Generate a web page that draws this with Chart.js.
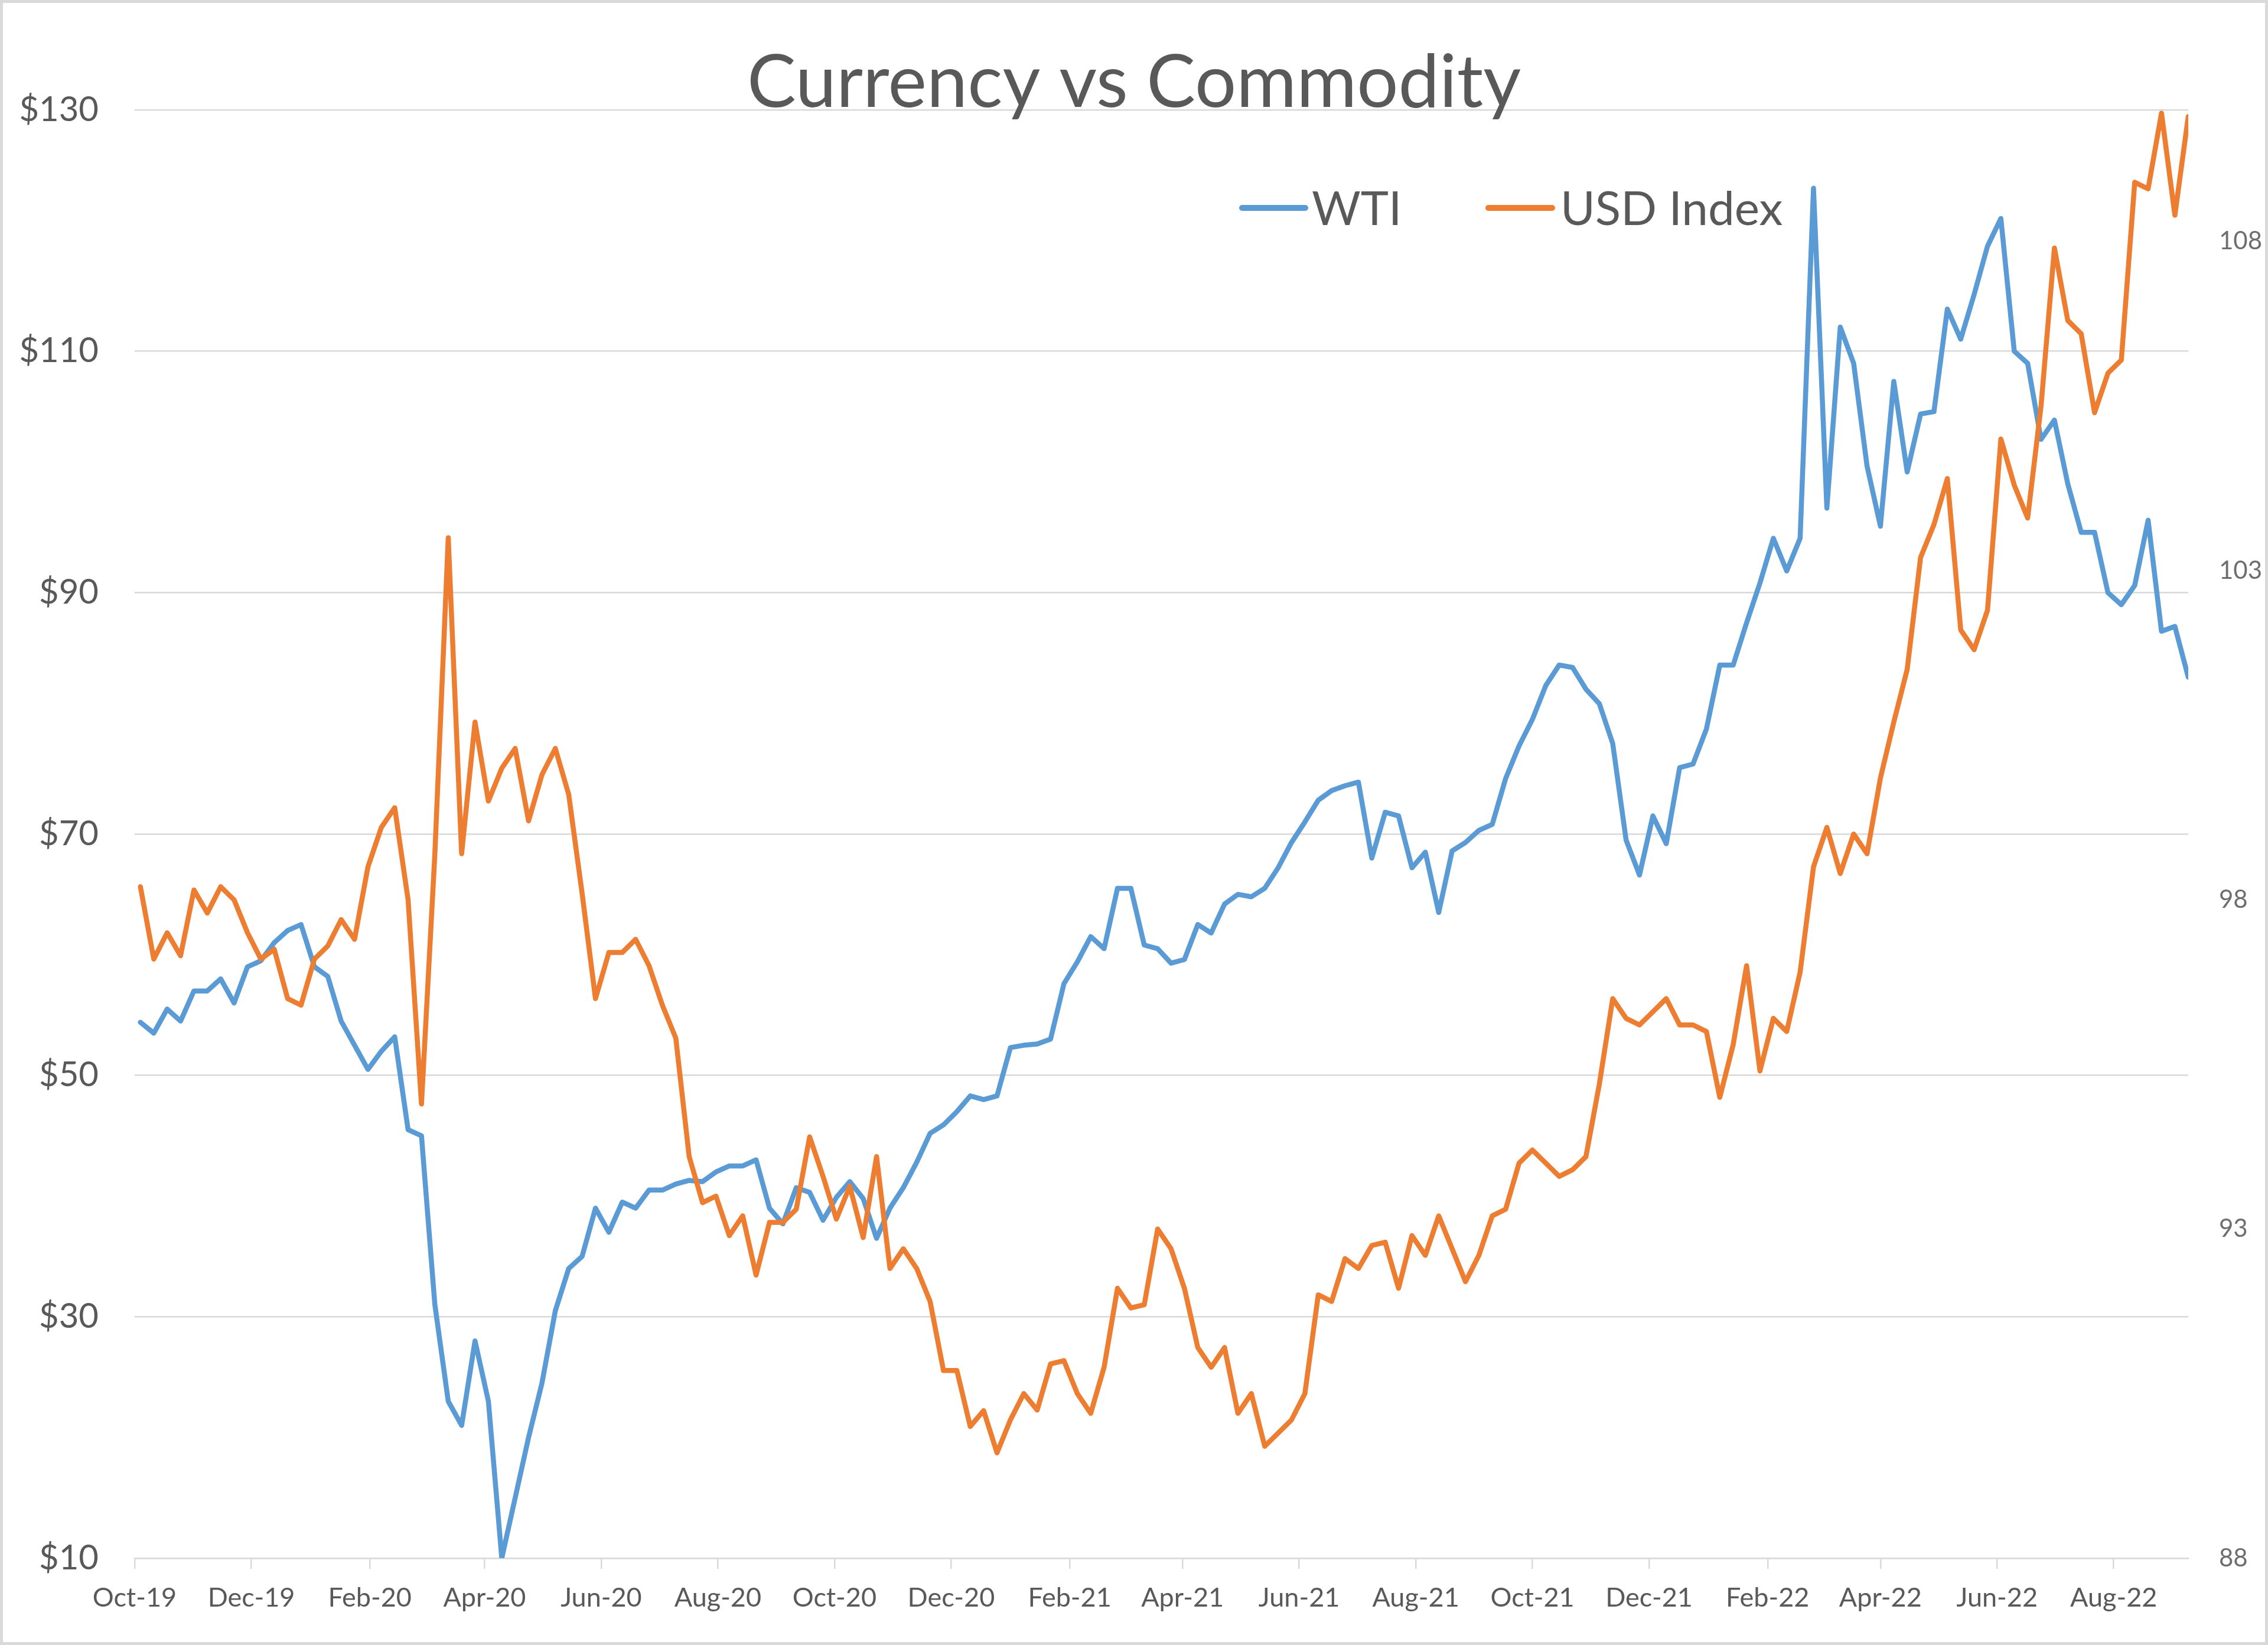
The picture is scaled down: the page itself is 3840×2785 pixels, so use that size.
<!DOCTYPE html>
<html>
<head>
<meta charset="utf-8">
<title>Currency vs Commodity</title>
<script src="https://cdn.jsdelivr.net/npm/chart.js@4.4.0/dist/chart.umd.min.js"></script>
<style>
    html, body { margin: 0; padding: 0; background: #ffffff; }
    #wrap { width: 3840px; height: 2785px; }
</style>
</head>
<body>
<div id="wrap"><canvas id="chart" width="3840" height="2785"></canvas></div>
<script>
// Weekly closes (Friday)
const weeks = [
    '2019-10-04','2019-10-11','2019-10-18','2019-10-25','2019-11-01','2019-11-08','2019-11-15','2019-11-22','2019-11-29','2019-12-06',
    '2019-12-13','2019-12-20','2019-12-27','2020-01-03','2020-01-10','2020-01-17','2020-01-24','2020-01-31','2020-02-07','2020-02-14',
    '2020-02-21','2020-02-28','2020-03-06','2020-03-13','2020-03-20','2020-03-27','2020-04-03','2020-04-10','2020-04-17','2020-04-24',
    '2020-05-01','2020-05-08','2020-05-15','2020-05-22','2020-05-29','2020-06-05','2020-06-12','2020-06-19','2020-06-26','2020-07-03',
    '2020-07-10','2020-07-17','2020-07-24','2020-07-31','2020-08-07','2020-08-14','2020-08-21','2020-08-28','2020-09-04','2020-09-11',
    '2020-09-18','2020-09-25','2020-10-02','2020-10-09','2020-10-16','2020-10-23','2020-10-30','2020-11-06','2020-11-13','2020-11-20',
    '2020-11-27','2020-12-04','2020-12-11','2020-12-18','2020-12-25','2021-01-01','2021-01-08','2021-01-15','2021-01-22','2021-01-29',
    '2021-02-05','2021-02-12','2021-02-19','2021-02-26','2021-03-05','2021-03-12','2021-03-19','2021-03-26','2021-04-02','2021-04-09',
    '2021-04-16','2021-04-23','2021-04-30','2021-05-07','2021-05-14','2021-05-21','2021-05-28','2021-06-04','2021-06-11','2021-06-18',
    '2021-06-25','2021-07-02','2021-07-09','2021-07-16','2021-07-23','2021-07-30','2021-08-06','2021-08-13','2021-08-20','2021-08-27',
    '2021-09-03','2021-09-10','2021-09-17','2021-09-24','2021-10-01','2021-10-08','2021-10-15','2021-10-22','2021-10-29','2021-11-05',
    '2021-11-12','2021-11-19','2021-11-26','2021-12-03','2021-12-10','2021-12-17','2021-12-24','2021-12-31','2022-01-07','2022-01-14',
    '2022-01-21','2022-01-28','2022-02-04','2022-02-11','2022-02-18','2022-02-25','2022-03-04','2022-03-11','2022-03-18','2022-03-25',
    '2022-04-01','2022-04-08','2022-04-15','2022-04-22','2022-04-29','2022-05-06','2022-05-13','2022-05-20','2022-05-27','2022-06-03',
    '2022-06-10','2022-06-17','2022-06-24','2022-07-01','2022-07-08','2022-07-15','2022-07-22','2022-07-29','2022-08-05','2022-08-12',
    '2022-08-19','2022-08-26','2022-09-02','2022-09-09'
];

// WTI crude, $ per barrel (left axis; April 2020 is cut off at the $10 floor)
const wti = [
    54.4, 53.5, 55.5, 54.5, 57.0, 57.0, 58.0, 56.0, 59.0, 59.5,
    61.0, 62.0, 62.5, 59.0, 58.2, 54.5, 52.5, 50.5, 52.0, 53.2,
    45.5, 45.0, 31.0, 23.0, 21.0, 28.0, 23.0, 10.0, 15.0, 20.0,
    24.5, 30.5, 34.0, 35.0, 39.0, 37.0, 39.5, 39.0, 40.5, 40.5,
    41.0, 41.3, 41.2, 42.0, 42.5, 42.5, 43.0, 39.0, 37.7, 40.7,
    40.3, 38.0, 39.9, 41.2, 39.8, 36.5, 39.0, 40.7, 42.8, 45.2,
    45.9, 47.0, 48.3, 48.0, 48.3, 52.3, 52.5, 52.6, 53.0, 57.6,
    59.4, 61.5, 60.5, 65.5, 65.5, 60.8, 60.5, 59.3, 59.6, 62.5,
    61.8, 64.2, 65.0, 64.8, 65.5, 67.2, 69.3, 71.0, 72.8, 73.6,
    74.0, 74.3, 68.0, 71.8, 71.5, 67.2, 68.5, 63.5, 68.6, 69.3,
    70.3, 70.8, 74.6, 77.3, 79.5, 82.3, 84.0, 83.8, 82.0, 80.8,
    77.5, 69.5, 66.6, 71.5, 69.2, 75.5, 75.8, 78.7, 84.0, 84.0,
    87.5, 90.8, 94.5, 91.8, 94.5, 123.5, 97.0, 112.0, 109.0, 100.5,
    95.5, 107.5, 100.0, 104.8, 105.0, 113.5, 111.0, 114.7, 118.7, 121.0,
    110.0, 109.0, 102.7, 104.3, 99.0, 95.0, 95.0, 90.0, 89.0, 90.6,
    96.0, 86.8, 87.2, 83.0
];

// US Dollar Index (right axis)
const usdIndex = [
    98.2, 97.1, 97.5, 97.15, 98.15, 97.8, 98.2, 98.0, 97.5, 97.1,
    97.25, 96.5, 96.4, 97.1, 97.3, 97.7, 97.4, 98.5, 99.1, 99.4,
    98.0, 94.9, 98.7, 103.5, 98.7, 100.7, 99.5, 100.0, 100.3, 99.2,
    99.9, 100.3, 99.6, 98.1, 96.5, 97.2, 97.2, 97.4, 97.0, 96.4,
    95.9, 94.1, 93.4, 93.5, 92.9, 93.2, 92.3, 93.1, 93.1, 93.3,
    94.4, 93.8, 93.15, 93.65, 92.87, 94.1, 92.4, 92.7, 92.4, 91.9,
    90.85, 90.85, 90.0, 90.24, 89.6, 90.1, 90.5, 90.25, 90.95, 91.0,
    90.5, 90.2, 90.9, 92.1, 91.8, 91.85, 93.0, 92.7, 92.1, 91.2,
    90.9, 91.2, 90.2, 90.5, 89.7, 89.9, 90.1, 90.5, 92.0, 91.9,
    92.55, 92.4, 92.75, 92.8, 92.1, 92.9, 92.6, 93.2, 92.7, 92.2,
    92.6, 93.2, 93.3, 94.0, 94.2, 94.0, 93.8, 93.9, 94.1, 95.2,
    96.5, 96.2, 96.1, 96.3, 96.5, 96.1, 96.1, 96.0, 95.0, 95.8,
    97.0, 95.4, 96.2, 96.0, 96.9, 98.5, 99.1, 98.4, 99.0, 98.7,
    99.85, 100.7, 101.5, 103.2, 103.7, 104.4, 102.1, 101.8, 102.4, 105.0,
    104.3, 103.8, 105.5, 107.9, 106.8, 106.6, 105.4, 106.0, 106.2, 108.9,
    108.8, 109.95, 108.4, 109.9
];

// Axis ticks
const tickDates = ['2019-10-01','2019-12-01','2020-02-01','2020-04-01','2020-06-01','2020-08-01',
    '2020-10-01','2020-12-01','2021-02-01','2021-04-01','2021-06-01','2021-08-01',
    '2021-10-01','2021-12-01','2022-02-01','2022-04-01','2022-06-01','2022-08-01'];
const tickLabels = ['Oct-19','Dec-19','Feb-20','Apr-20','Jun-20','Aug-20','Oct-20','Dec-20','Feb-21',
    'Apr-21','Jun-21','Aug-21','Oct-21','Dec-21','Feb-22','Apr-22','Jun-22','Aug-22'];
const usdTicks = [88, 93, 98, 103, 108];

const titleText = 'Currency vs Commodity';
const seriesNames = ['WTI', 'USD Index'];
const seriesColors = ['#5b9bd5', '#ed7d31'];
const textColor = '#595959';
const gridColor = '#d9d9d9';

const toPoints = values => values.map((v, i) => ({ x: Date.parse(weeks[i]), y: v }));
const tickValues = tickDates.map(d => Date.parse(d));

// Title, in-plot legend and outer border, placed like the Excel original
const decorations = {
    id: 'decorations',
    beforeDraw(chart) {
        const ctx = chart.ctx;
        ctx.save();
        ctx.fillStyle = '#ffffff';
        ctx.fillRect(0, 0, chart.width, chart.height);
        ctx.restore();
    },
    afterDraw(chart) {
        const ctx = chart.ctx;
        ctx.save();

        ctx.fillStyle = textColor;
        ctx.font = '124px Lato';
        ctx.textAlign = 'center';
        ctx.textBaseline = 'alphabetic';
        ctx.fillText(titleText, chart.width / 2, 181);

        // legend
        const items = [
            { x0: 2103, x1: 2210, tx: 2221 },
            { x0: 2520, x1: 2628, tx: 2642 }
        ];
        ctx.font = '80px Lato';
        ctx.textAlign = 'left';
        items.forEach((it, i) => {
            ctx.strokeStyle = seriesColors[i];
            ctx.lineWidth = 10;
            ctx.lineCap = 'round';
            ctx.beginPath();
            ctx.moveTo(it.x0, 352);
            ctx.lineTo(it.x1, 352);
            ctx.stroke();
            ctx.fillStyle = textColor;
            ctx.fillText(seriesNames[i], it.tx, 381);
        });

        ctx.strokeStyle = gridColor;
        ctx.lineWidth = 5;
        ctx.strokeRect(2.5, 2.5, chart.width - 5, chart.height - 5);
        ctx.restore();
    }
};

Chart.defaults.font.family = 'Lato, "Open Sans", sans-serif';

new Chart(document.getElementById('chart'), {
    type: 'line',
    data: {
        datasets: [{
            label: seriesNames[0],
            data: toPoints(wti),
            yAxisID: 'y',
            borderColor: seriesColors[0],
            borderWidth: 8.5,
            order: 1
        }, {
            label: seriesNames[1],
            data: toPoints(usdIndex),
            yAxisID: 'y2',
            borderColor: seriesColors[1],
            borderWidth: 8.5,
            order: 0
        }]
    },
    options: {
        responsive: false,
        animation: false,
        events: [],
        elements: {
            point: { radius: 0 },
            line: { tension: 0, borderJoinStyle: 'round', borderCapStyle: 'round' }
        },
        layout: { padding: { top: 186, left: 33, right: 0, bottom: 0 } },
        plugins: {
            legend: { display: false },
            title: { display: false },
            tooltip: { enabled: false }
        },
        scales: {
            x: {
                type: 'linear',
                min: Date.parse('2019-10-01'),
                max: Date.parse(weeks[weeks.length - 1]),
                afterBuildTicks: scale => { scale.ticks = tickValues.map(v => ({ value: v })); },
                afterFit: scale => { scale.height = 147; },
                grid: { drawOnChartArea: false, drawTicks: true, tickLength: 18, color: gridColor, lineWidth: 2.5 },
                border: { display: true, color: gridColor, width: 2.5 },
                ticks: {
                    autoSkip: false,
                    maxRotation: 0,
                    padding: 22,
                    color: textColor,
                    font: { size: 45 },
                    callback: value => tickLabels[tickValues.indexOf(value)]
                }
            },
            y: {
                position: 'left',
                min: 10,
                max: 130,
                afterFit: scale => { scale.width = 195; },
                grid: { color: gridColor, lineWidth: 2.5, drawTicks: false },
                border: { display: false },
                ticks: {
                    stepSize: 20,
                    padding: 61,
                    color: textColor,
                    font: { size: 58 },
                    callback: value => '$' + value
                }
            },
            y2: {
                position: 'right',
                min: 88,
                max: 110,
                afterBuildTicks: scale => { scale.ticks = usdTicks.map(v => ({ value: v })); },
                afterFit: scale => { scale.width = 135; },
                grid: { display: false, drawTicks: false },
                border: { display: false },
                ticks: {
                    padding: 52,
                    color: '#6e6e6e',
                    font: { size: 42 }
                }
            }
        }
    },
    plugins: [decorations]
});
</script>
</body>
</html>
